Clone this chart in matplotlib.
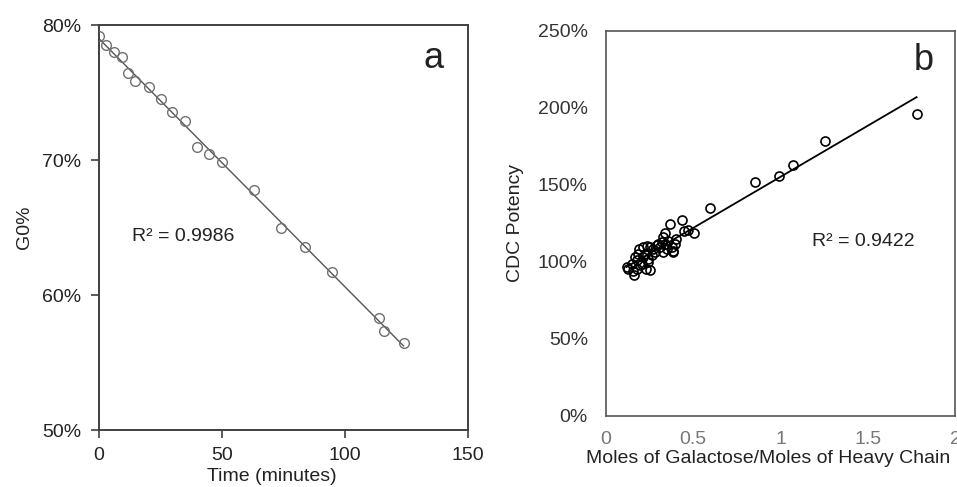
import numpy as np
import matplotlib
matplotlib.use('Agg')
import matplotlib.pyplot as plt
from matplotlib.ticker import FuncFormatter

plt.rcParams['font.family'] = ['Liberation Sans', 'DejaVu Sans']

# panel a: G0% vs time
time_min = [0, 3.0, 6.1, 9.2, 11.9, 14.8, 20.2, 25.1, 29.8, 35.1, 39.9, 44.8,
            50.0, 63.1, 73.9, 83.8, 94.8, 113.9, 116.0, 123.8]
g0_pct = [79.19, 78.49, 78.02, 77.63, 76.42, 75.88, 75.43, 74.54, 73.58, 72.89,
          70.99, 70.47, 69.85, 67.75, 64.99, 63.58, 61.73, 58.32, 57.33, 56.42]

# panel b: CDC potency vs galactose ratio
gal_ratio = [1.780, 1.257, 1.070, 0.993, 0.854, 0.594, 0.434, 0.367, 0.502, 0.472,
             0.447, 0.338, 0.128, 0.160, 0.147, 0.166, 0.176, 0.191, 0.227, 0.243,
             0.214, 0.233, 0.252, 0.271, 0.290, 0.262, 0.281, 0.309, 0.325, 0.338,
             0.376, 0.382, 0.395, 0.401, 0.348, 0.319, 0.195, 0.176, 0.210, 0.224,
             0.118, 0.157, 0.185, 0.328, 0.386, 0.252, 0.242, 0.300, 0.355, 0.205]
potency_pct = [195.9, 178.6, 162.8, 155.6, 151.9, 135.3, 127.1, 124.7, 119.0, 120.6,
               120.1, 119.0, 95.7, 91.3, 98.9, 103.2, 101.1, 108.7, 95.7, 100.0,
               109.7, 110.2, 109.7, 108.7, 110.8, 104.3, 106.5, 109.7, 106.5, 111.9,
               109.7, 107.1, 111.9, 115.2, 108.7, 113.0, 97.8, 95.7, 103.2, 105.4,
               96.8, 94.0, 105.0, 116.0, 106.5, 94.6, 102.0, 112.0, 113.5, 99.0]

pct = FuncFormatter(lambda v, p: '%d%%' % v)

fig = plt.figure(figsize=(9.57, 4.87), dpi=100)

# ---- panel a
ax1 = fig.add_axes([0.1034, 0.117, 0.3856, 0.8316])
ax1.plot(time_min, g0_pct, 'o', mfc='none', mec='#707070', ms=7, mew=1.0, zorder=3)
m, b = np.polyfit(time_min, g0_pct, 1)
xs = np.array([min(time_min), max(time_min)])
ax1.plot(xs, m * xs + b, color='#555555', lw=1.0)
ax1.set_xlim(0, 150)
ax1.set_ylim(50, 80)
ax1.set_xticks([0, 50, 100, 150])
ax1.set_yticks([50, 60, 70, 80])
ax1.yaxis.set_major_formatter(pct)
for s in ax1.spines.values():
    s.set_color('#404040')
    s.set_linewidth(1.4)
ax1.tick_params(direction='out', length=6, width=1.2, color='#404040',
                labelsize=14, labelcolor='#222222')
ax1.tick_params(axis='x', pad=6)
ax1.tick_params(axis='y', pad=7)
ax1.set_xlabel('Time (minutes)', fontsize=14, labelpad=4, color='#222222')
ax1.xaxis.set_label_coords(0.469, -0.095)
ax1.set_ylabel('G0%', fontsize=14, labelpad=6, color='#222222')
ax1.text(13.6, 64.3, 'R\u00b2 = 0.9986', fontsize=14, va='center', color='#222222')
ax1.text(135.9, 77.5, 'a', fontsize=26, ha='center', va='center', color='#222222')

# ---- panel b
ax2 = fig.add_axes([0.6332, 0.1458, 0.3647, 0.7906])
ax2.plot(gal_ratio, potency_pct, 'o', mfc='none', mec='black', ms=6.5, mew=1.2, zorder=3)
m2, b2 = np.polyfit(gal_ratio, potency_pct, 1)
xs2 = np.array([min(gal_ratio), max(gal_ratio)])
ax2.plot(xs2, m2 * xs2 + b2, color='black', lw=1.3)
ax2.set_xlim(0, 2)
ax2.set_ylim(0, 250)
ax2.set_xticks([0, 0.5, 1, 1.5, 2])
ax2.set_xticklabels(['0', '0.5', '1', '1.5', '2'])
ax2.set_yticks([0, 50, 100, 150, 200, 250])
ax2.yaxis.set_major_formatter(pct)
for s in ax2.spines.values():
    s.set_color('#555555')
    s.set_linewidth(1.2)
ax2.tick_params(length=0, labelsize=14)
ax2.tick_params(axis='x', pad=11, labelcolor='#777777')
ax2.tick_params(axis='y', pad=13, labelcolor='#333333')
ax2.set_xlabel('Moles of Galactose/Moles of Heavy Chain', fontsize=14, labelpad=1,
               color='#222222')
ax2.xaxis.set_label_coords(0.464, -0.088)
ax2.set_ylabel('CDC Potency', fontsize=14, labelpad=10, color='#222222')
ax2.text(1.18, 113.6, 'R\u00b2 = 0.9422', fontsize=14, va='center', color='#222222')
ax2.text(1.82, 231, 'b', fontsize=26, ha='center', va='center', color='#222222')

fig.savefig('out.png', dpi=100)
